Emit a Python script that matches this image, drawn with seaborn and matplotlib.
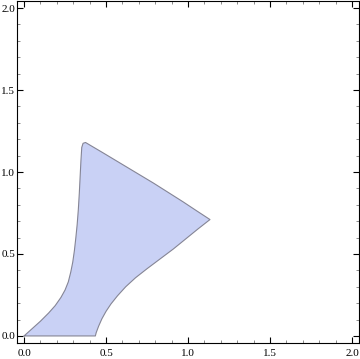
import numpy as np
import pandas as pd
import matplotlib
matplotlib.use("Agg")
import matplotlib.pyplot as plt
import seaborn as sns
from matplotlib.ticker import MultipleLocator

# Boundary of the region (traced clockwise from the origin)
boundary_x = [0.0, 0.05, 0.10, 0.15, 0.19, 0.225, 0.25, 0.27, 0.285, 0.297,
              0.307, 0.316, 0.324, 0.331, 0.337, 0.342, 0.347, 0.352, 0.36,
              0.375,
              0.48, 0.585, 0.69, 0.79, 0.88, 0.97, 1.05, 1.134,
              1.06, 0.99, 0.91, 0.83, 0.75, 0.68, 0.62, 0.57, 0.53, 0.50,
              0.475, 0.455, 0.44, 0.435, 0.0]
boundary_y = [0.0, 0.045, 0.09, 0.14, 0.185, 0.235, 0.28, 0.33, 0.39, 0.45,
              0.52, 0.60, 0.68, 0.77, 0.87, 0.97, 1.07, 1.15, 1.175,
              1.18,
              1.118, 1.055, 0.992, 0.932, 0.875, 0.818, 0.765, 0.71,
              0.652, 0.595, 0.53, 0.47, 0.41, 0.355, 0.30, 0.245, 0.195, 0.15,
              0.105, 0.06, 0.02, 0.0, 0.0]
tick_values = [0.0, 0.5, 1.0, 1.5, 2.0]
tick_labels = ["0.0", "0.5", "1.0", "1.5", "2.0"]

df = pd.DataFrame({"x": boundary_x, "y": boundary_y})

sns.set_style("ticks")
plt.rcParams["font.family"] = ["Liberation Serif", "DejaVu Serif"]

fig = plt.figure(figsize=(3.6, 3.59), dpi=100)
ax = fig.add_axes([17 / 360, 16 / 359, (359 - 17) / 360, (358 - 16) / 359])

ax.fill(df["x"], df["y"], facecolor="#c9d1f5", edgecolor="none", zorder=2)
sns.lineplot(data=df, x="x", y="y", sort=False, estimator=None, ax=ax,
             color="#858595", linewidth=0.8, zorder=3)

ax.set_xlim(-0.043, 2.043)
ax.set_ylim(-0.043, 2.043)
ax.set_xticks(tick_values)
ax.set_xticklabels(tick_labels)
ax.set_yticks(tick_values)
ax.set_yticklabels(tick_labels)
ax.xaxis.set_minor_locator(MultipleLocator(0.1))
ax.yaxis.set_minor_locator(MultipleLocator(0.1))
ax.set_xlabel("")
ax.set_ylabel("")

ax.tick_params(which="both", direction="in", top=True, right=True,
               labelsize=8, colors="black")
ax.tick_params(which="major", length=4.5, width=0.8)
ax.tick_params(which="minor", length=2.5, width=0.6, color="#777777")
ax.tick_params(axis="x", which="major", pad=4)
ax.tick_params(axis="y", which="major", pad=1.5)
for s in ax.spines.values():
    s.set_visible(True)
    s.set_color("black")
    s.set_linewidth(0.8)

fig.savefig("out.png", dpi=100)
